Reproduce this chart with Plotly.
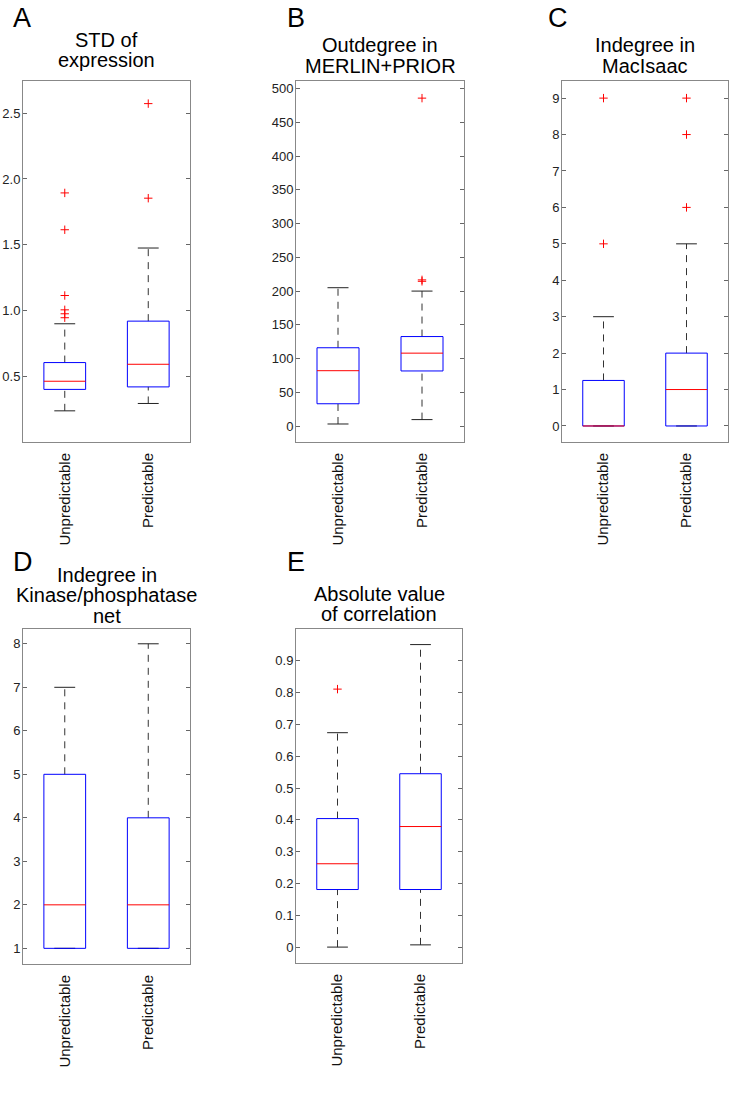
import plotly.graph_objects as go

# ---------------- data ----------------
categories = ["Unpredictable", "Predictable"]
panel_letters = ["A", "B", "C", "D", "E"]
panel_titles = [
    ["STD of", "expression"],
    ["Outdegree in", "MERLIN+PRIOR"],
    ["Indegree in", "MacIsaac"],
    ["Indegree in", "Kinase/phosphatase", "net"],
    ["Absolute value", "of correlation"],
]

# A: STD of expression
std_lower = [0.237, 0.293]
std_q1 = [0.400, 0.419]
std_median = [0.462, 0.591]
std_q3 = [0.604, 0.919]
std_upper = [0.899, 1.475]
std_outliers = [[1.894, 1.614, 1.114, 1.005, 0.975, 0.945], [2.573, 1.854]]
std_ticks = [0.5, 1.0, 1.5, 2.0, 2.5]

# B: Outdegree in MERLIN+PRIOR
outdeg_lower = [3.0, 9.5]
outdeg_q1 = [33.0, 81.6]
outdeg_median = [82.0, 108.0]
outdeg_q3 = [116.0, 132.6]
outdeg_upper = [205.0, 200.0]
outdeg_outliers = [[], [486.0, 216.6, 214.5]]
outdeg_ticks = [0, 50, 100, 150, 200, 250, 300, 350, 400, 450, 500]

# C: Indegree in MacIsaac
macisaac_lower = [0, 0]
macisaac_q1 = [0, 0]
macisaac_median = [0, 1]
macisaac_q3 = [1.25, 2]
macisaac_upper = [3, 5]
macisaac_outliers = [[9, 5], [9, 8, 6]]
macisaac_ticks = [0, 1, 2, 3, 4, 5, 6, 7, 8, 9]

# D: Indegree in Kinase/phosphatase net
kinase_lower = [1, 1]
kinase_q1 = [1, 1]
kinase_median = [2, 2]
kinase_q3 = [5, 4]
kinase_upper = [7, 8]
kinase_outliers = [[], []]
kinase_ticks = [1, 2, 3, 4, 5, 6, 7, 8]

# E: Absolute value of correlation
corr_lower = [0.0, 0.007]
corr_q1 = [0.181, 0.181]
corr_median = [0.262, 0.379]
corr_q3 = [0.404, 0.545]
corr_upper = [0.674, 0.951]
corr_outliers = [[0.811], []]
corr_ticks = [0, 0.1, 0.2, 0.3, 0.4, 0.5, 0.6, 0.7, 0.8, 0.9]

stats = [
    (std_lower, std_q1, std_median, std_q3, std_upper, std_outliers, std_ticks, ".1f"),
    (outdeg_lower, outdeg_q1, outdeg_median, outdeg_q3, outdeg_upper, outdeg_outliers, outdeg_ticks, ""),
    (macisaac_lower, macisaac_q1, macisaac_median, macisaac_q3, macisaac_upper, macisaac_outliers, macisaac_ticks, ""),
    (kinase_lower, kinase_q1, kinase_median, kinase_q3, kinase_upper, kinase_outliers, kinase_ticks, ""),
    (corr_lower, corr_q1, corr_median, corr_q3, corr_upper, corr_outliers, corr_ticks, ""),
]

# ---------------- layout (pixels) ----------------
W, H = 729, 1103
frames = [  # left, right, top, bottom in px
    (23, 190, 81, 442),
    (296, 464, 81, 442),
    (562, 728, 81, 442),
    (23, 190, 629, 964),
    (296, 462, 629, 963),
]
y_ranges = [(0.0, 2.745), (-23.7, 511.4), (-0.44, 9.47), (0.64, 8.34), (-0.05, 1.0)]
letter_pos = [(11, 18), (285, 18), (546, 18), (11, 562), (285, 562)]
title_line_y = [[40, 60.5], [45.5, 66], [45.5, 66], [574.5, 595, 615.5], [593.5, 614]]

FONT = "Arial, 'Liberation Sans', Helvetica, sans-serif"
BOX_HALF = 0.25
CAP_HALF = 0.125

fig = go.Figure()

for p, (lo, q1, md, q3, up, outl, ticks, tfmt) in enumerate(stats):
    xa = "x" if p == 0 else f"x{p+1}"
    ya = "y" if p == 0 else f"y{p+1}"
    for j in range(len(categories)):
        xc = j + 1
        # whiskers (dashed)
        wx, wy = [], []
        if up[j] > q3[j]:
            wx += [xc, xc, None]
            wy += [q3[j], up[j], None]
        if lo[j] < q1[j]:
            wx += [xc, xc, None]
            wy += [lo[j], q1[j], None]
        if wx:
            fig.add_trace(go.Scatter(x=wx, y=wy, mode="lines", xaxis=xa, yaxis=ya,
                                     line=dict(color="#333333", width=1, dash="7px,6px"),
                                     hoverinfo="skip", showlegend=False))
        # caps
        fig.add_trace(go.Scatter(x=[xc - CAP_HALF, xc + CAP_HALF, None, xc - CAP_HALF, xc + CAP_HALF],
                                 y=[up[j], up[j], None, lo[j], lo[j]], mode="lines",
                                 xaxis=xa, yaxis=ya, line=dict(color="#222222", width=1),
                                 hoverinfo="skip", showlegend=False))
        # box
        fig.add_trace(go.Scatter(x=[xc - BOX_HALF, xc + BOX_HALF, xc + BOX_HALF, xc - BOX_HALF, xc - BOX_HALF],
                                 y=[q1[j], q1[j], q3[j], q3[j], q1[j]], mode="lines",
                                 xaxis=xa, yaxis=ya, line=dict(color="#0000ff", width=1),
                                 hoverinfo="skip", showlegend=False))
        # median
        fig.add_trace(go.Scatter(x=[xc - BOX_HALF, xc + BOX_HALF], y=[md[j], md[j]], mode="lines",
                                 xaxis=xa, yaxis=ya, line=dict(color="#ff0000", width=1),
                                 hoverinfo="skip", showlegend=False))
        # outliers
        if outl[j]:
            fig.add_trace(go.Scatter(x=[xc] * len(outl[j]), y=outl[j], mode="markers",
                                     xaxis=xa, yaxis=ya,
                                     marker=dict(symbol="cross-thin", size=6,
                                                 line=dict(color="#ff0000", width=1)),
                                     hoverinfo="skip", showlegend=False))

    l, r, t, b = frames[p]
    xkey = "xaxis" if p == 0 else f"xaxis{p+1}"
    ykey = "yaxis" if p == 0 else f"yaxis{p+1}"
    fig.layout[xkey] = dict(domain=[l / W, r / W], anchor=ya, range=[0.5, 2.5],
                            tickvals=[1, 2], ticktext=categories, tickangle=-90,
                            ticks="", showline=True, mirror=True, linecolor="#888888",
                            linewidth=1, showgrid=False, zeroline=False, ticklabelstandoff=4,
                            tickfont=dict(family=FONT, size=15, color="#111111"))
    fig.layout[ykey] = dict(domain=[1 - b / H, 1 - t / H], anchor=xa, range=list(y_ranges[p]),
                            tickvals=ticks, tickformat=tfmt, ticks="inside", ticklen=4,
                            tickcolor="#666666", showline=True, mirror="ticks",
                            linecolor="#888888", linewidth=1, showgrid=False, zeroline=False,
                            ticklabelstandoff=-1,
                            tickfont=dict(family=FONT, size=13, color="#222222"))

    # panel letter
    lx, ly = letter_pos[p]
    fig.add_annotation(x=lx / W, y=1 - ly / H, xref="paper", yref="paper", text=panel_letters[p],
                       showarrow=False, xanchor="left", yanchor="middle",
                       font=dict(family=FONT, size=27, color="#000000"))
    # title lines
    cx = (l + r) / 2
    for line, yy in zip(panel_titles[p], title_line_y[p]):
        fig.add_annotation(x=cx / W, y=1 - yy / H, xref="paper", yref="paper", text=line,
                           showarrow=False, xanchor="center", yanchor="middle",
                           font=dict(family=FONT, size=20, color="#000000"))

fig.update_layout(width=W, height=H, margin=dict(l=0, r=0, t=0, b=0),
                  paper_bgcolor="white", plot_bgcolor="white", showlegend=False)

fig.write_html("out.html", config={"displayModeBar": False},
               post_script="document.body.style.margin='0px';document.body.style.padding='0px';")
